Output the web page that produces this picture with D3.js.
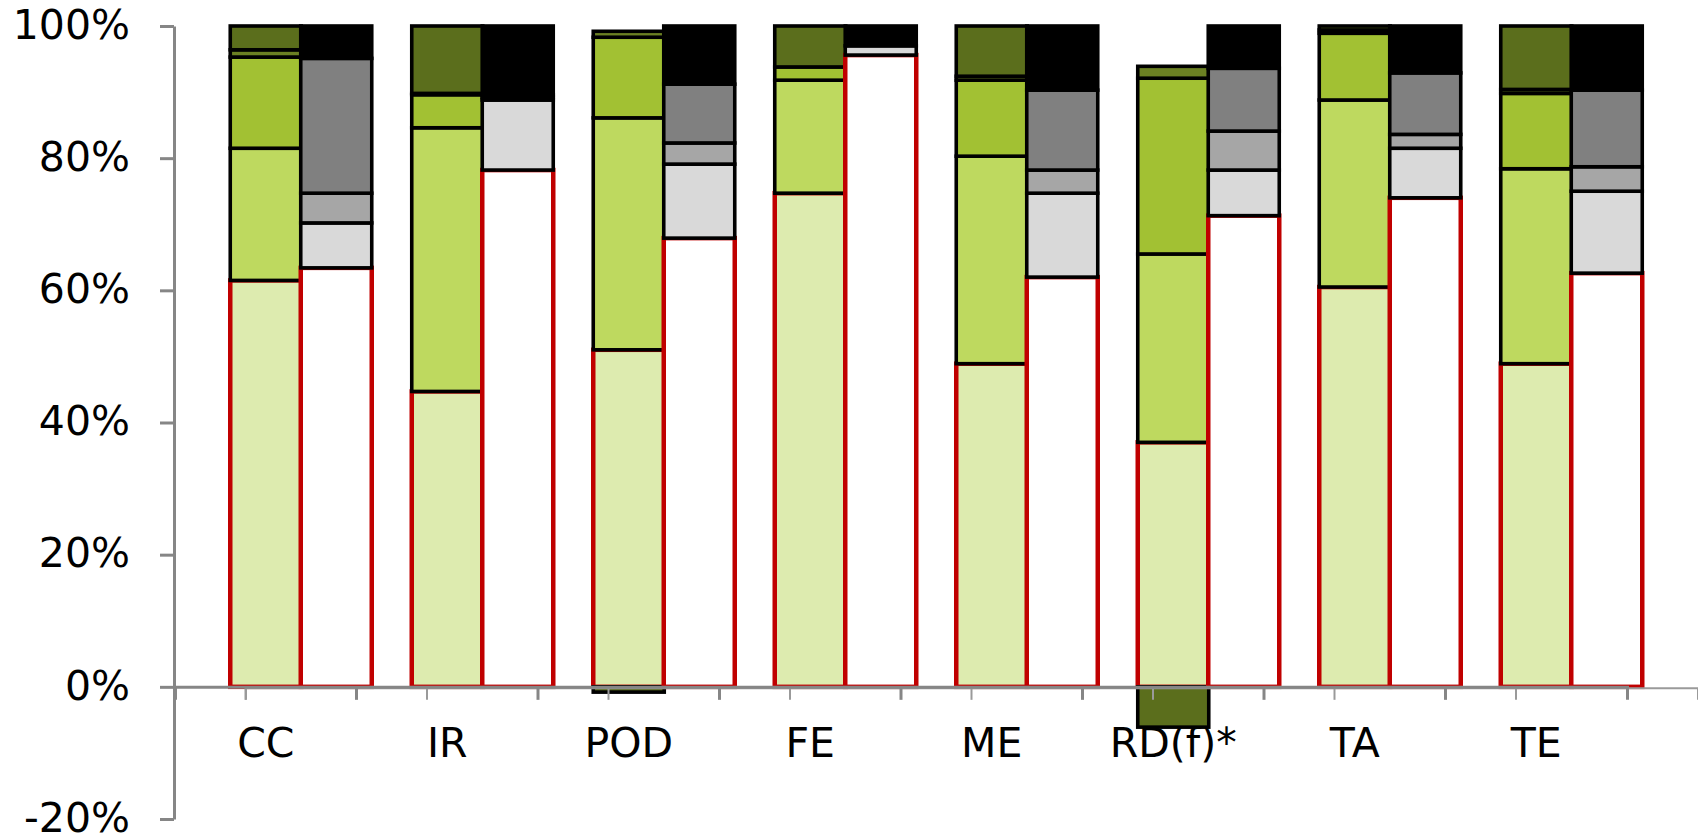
<!DOCTYPE html>
<html>
<head>
<meta charset="utf-8">
<script src="https://cdn.jsdelivr.net/npm/d3@7"></script>
<style>
  html, body { margin: 0; padding: 0; background: #ffffff; }
  svg { display: block; }
</style>
</head>
<body>
<script>
// ---------- DATA (percent) ----------
const categories = ["CC", "IR", "POD", "FE", "ME", "RD(f)*", "TA", "TE"];

// left (green) stacked bars, bottom to top
const green1 = [61.5, 44.7, 51.0, 74.7, 48.9, 37.0, 60.5, 48.9];
const green2 = [20.0, 39.9, 35.1, 17.1, 31.4, 28.5, 28.3, 29.5];
const green3 = [13.8,  5.0, 12.2,  2.0, 11.5, 26.6, 10.1, 11.4];
const green4 = [ 1.1,  0.2,  0.9,  0.0,  0.6,  1.8,  0.5,  0.6];
const green5 = [ 3.6, 10.2, -0.8,  6.2,  7.6, -6.1,  0.6,  9.6];

// right (grey) stacked bars, bottom to top
const grey1 = [63.4, 78.2, 67.9, 95.6, 62.0, 71.3, 74.0, 62.6];
const grey2 = [ 6.8, 10.6, 11.2,  1.4, 12.7,  6.9,  7.5, 12.4];
const grey3 = [ 4.5,  0.4,  3.2,  0.0,  3.5,  5.9,  2.1,  3.7];
const grey4 = [20.4,  0.4,  8.9,  0.0, 12.1,  9.5,  9.3, 11.6];
const grey5 = [ 4.9, 10.4,  8.8,  3.0,  9.7,  6.4,  7.1,  9.7];

const yTicks = [-20, 0, 20, 40, 60, 80, 100];

// ---------- STYLE ----------
const greenFills = ["#DDEBAF", "#BED95F", "#A2C133", "#6B8023", "#5B6E1C"];
const greyFills  = ["#FFFFFF", "#D9D9D9", "#A6A6A6", "#808080", "#000000"];
const segStrokes = ["#C00000", "#000000", "#000000", "#000000", "#000000"];
const segWidths  = [4.5, 3.6, 3.6, 3.6, 3.6];
const FONT = "'DejaVu Sans', Verdana, sans-serif";

const W = 1698, H = 837;
const svg = d3.select("body").append("svg").attr("width", W).attr("height", H);

const y = d3.scaleLinear().domain([-20, 100]).range([819, 26]);
const xG = d3.scaleBand().domain(categories).range([175, 1627]);
const xR = d3.scaleBand().domain(categories).range([245.5, 1697.5]);
const barW = 71;

function drawStack(xs, series, fills) {
  const keys = series.map((s, j) => "s" + j);
  const rows = categories.map((c, i) => {
    const o = { cat: c };
    series.forEach((s, j) => { o["s" + j] = s[i]; });
    return o;
  });
  const stacked = d3.stack().keys(keys).offset(d3.stackOffsetDiverging)(rows);
  const g = svg.append("g");
  stacked.forEach((layer, j) => {
    g.append("g").selectAll("rect")
      .data(layer.filter(d => d[1] !== d[0]))
      .join("rect")
      .attr("x", d => xs(d.data.cat) + (xs.bandwidth() - barW) / 2)
      .attr("y", d => y(Math.max(d[0], d[1])))
      .attr("width", barW)
      .attr("height", d => Math.abs(y(d[0]) - y(d[1])))
      .attr("fill", fills[j])
      .attr("stroke", segStrokes[j])
      .attr("stroke-width", segWidths[j]);
  });
}

drawStack(xG, [green1, green2, green3, green4, green5], greenFills);
drawStack(xR, [grey1, grey2, grey3, grey4, grey5], greyFills);

const y0 = y(0);

// grey-bar category axis (secondary, lighter)
const axR = svg.append("g").attr("transform", `translate(0,${y0 + 1})`)
  .call(d3.axisBottom(xR).tickSize(0).tickSizeOuter(12).tickFormat(""));
axR.select(".domain").attr("stroke", "#9A9A9A").attr("stroke-width", 2);
axR.selectAll(".tick").remove();
axR.append("g").selectAll("line").data(categories).join("line")
  .attr("x1", d => xR(d)).attr("x2", d => xR(d))
  .attr("y1", 0).attr("y2", 12)
  .attr("stroke", "#9A9A9A").attr("stroke-width", 2);

// green-bar category axis (primary)
const axG = svg.append("g").attr("transform", `translate(0,${y0})`)
  .call(d3.axisBottom(xG).tickSize(0).tickSizeOuter(13).tickPadding(41));
axG.select(".domain").attr("stroke", "#868686").attr("stroke-width", 3);
axG.selectAll("text").attr("font-size", "41px").attr("font-family", FONT).attr("fill", "#000");
axG.append("g").selectAll("line").data(categories.slice(0, -1)).join("line")
  .attr("x1", d => xG(d) + xG.step()).attr("x2", d => xG(d) + xG.step())
  .attr("y1", 0).attr("y2", 13)
  .attr("stroke", "#868686").attr("stroke-width", 3);

// value axis
const axY = svg.append("g").attr("transform", "translate(174,0)")
  .call(d3.axisLeft(y).tickValues(yTicks).tickFormat(d => d + "%")
        .tickSize(14).tickSizeOuter(0).tickPadding(30));
axY.select(".domain").attr("stroke", "#868686").attr("stroke-width", 3);
axY.selectAll(".tick line").attr("stroke", "#868686").attr("stroke-width", 3);
axY.selectAll("text").attr("font-size", "41px").attr("font-family", FONT).attr("fill", "#000")
  .attr("dy", "0.3em");
</script>
</body>
</html>
